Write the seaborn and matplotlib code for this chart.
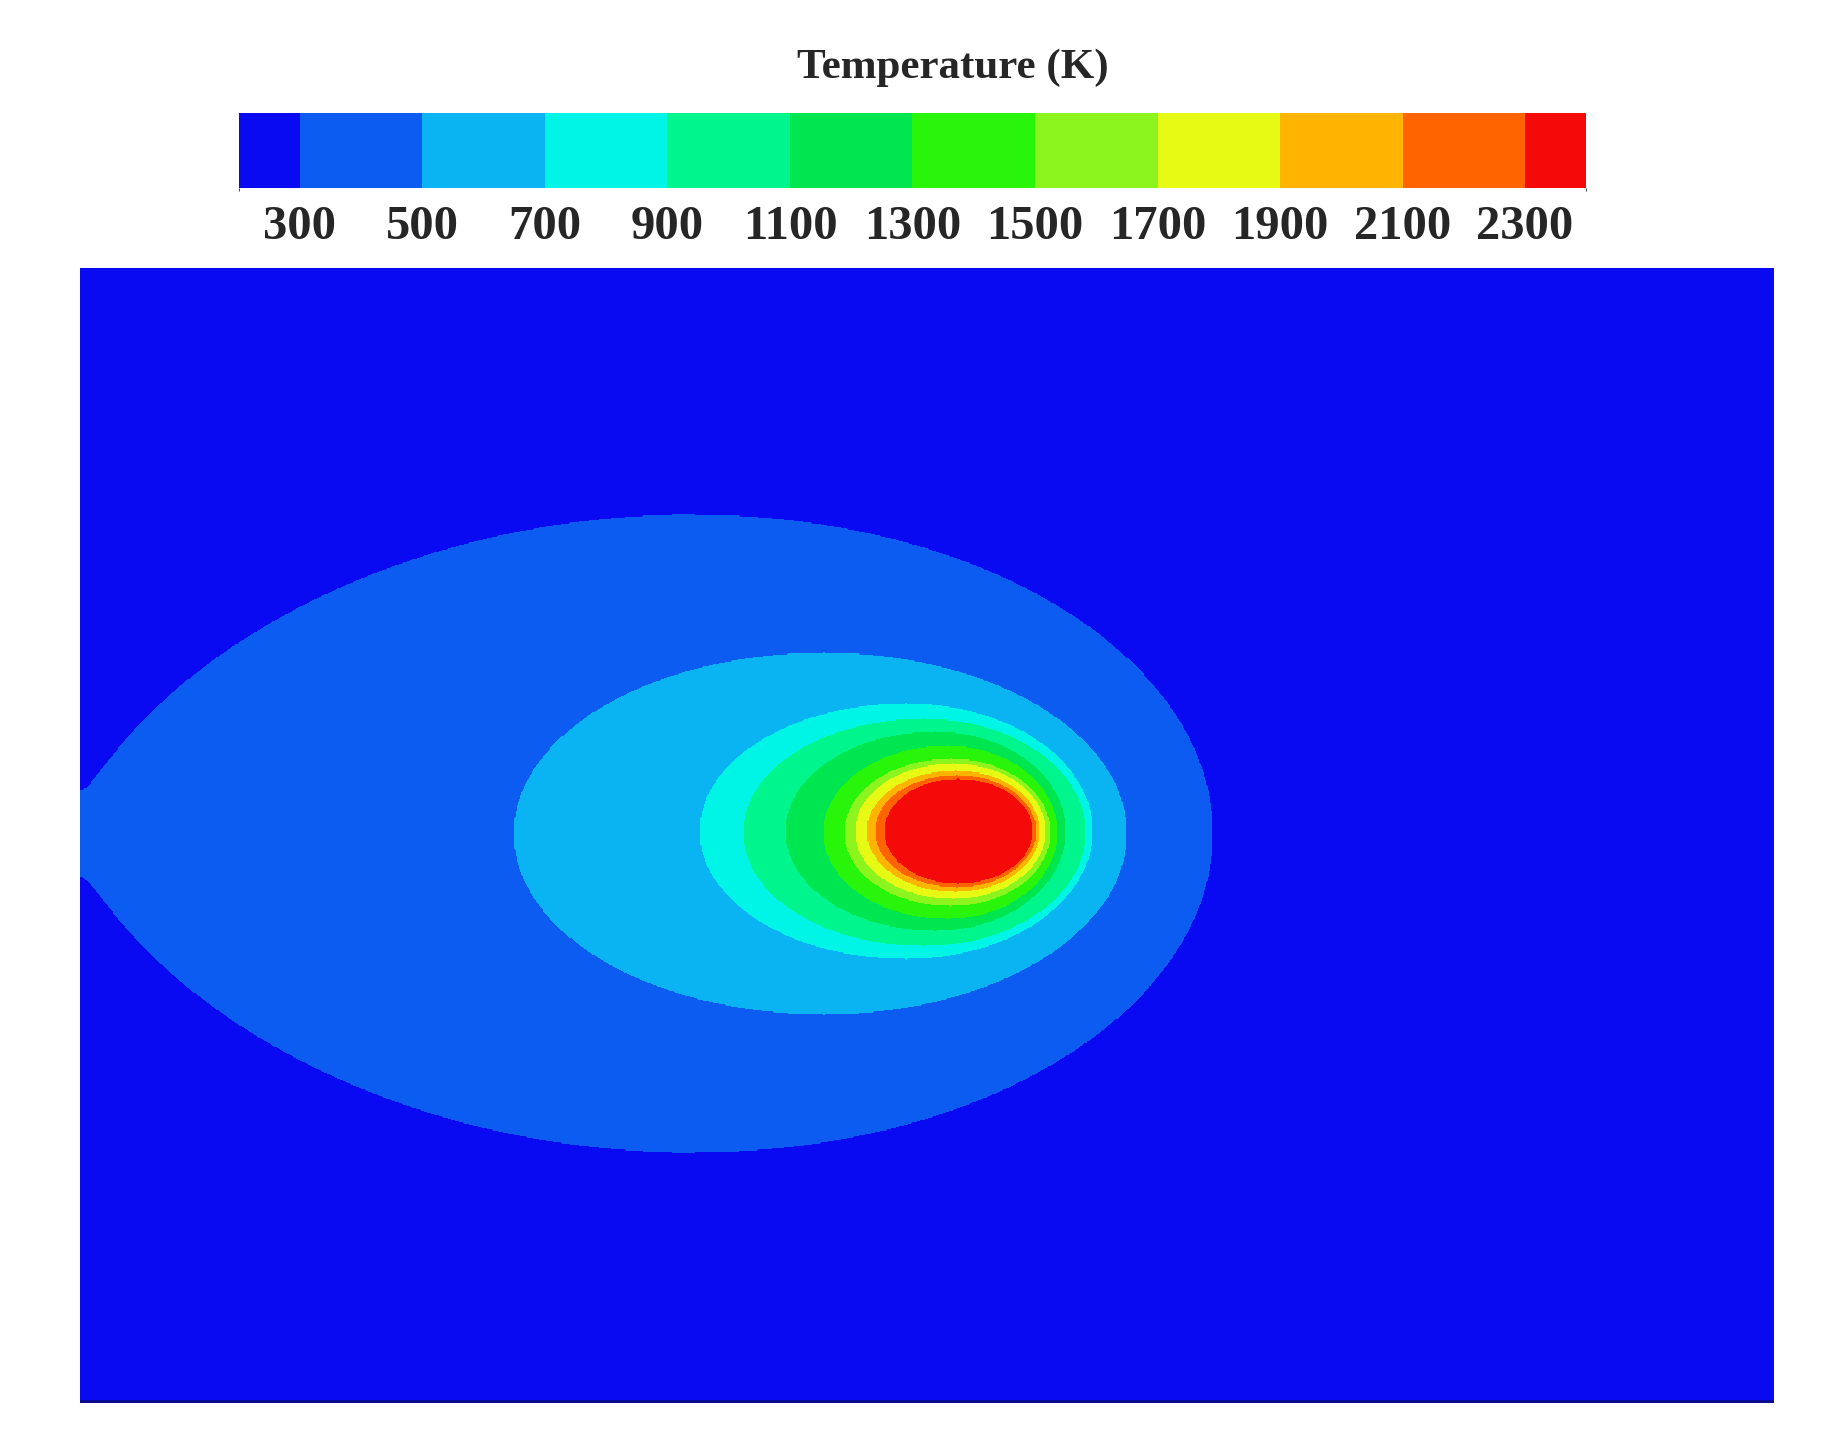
import numpy as np
import matplotlib
matplotlib.use("Agg")
import matplotlib.pyplot as plt
from matplotlib.colors import ListedColormap, BoundaryNorm
import seaborn as sns

sns.set_style("white")
plt.rcParams['font.family'] = ['Liberation Serif', 'DejaVu Serif']

# contour levels (K) and band colours
levels = [200, 300, 500, 700, 900, 1100, 1300, 1500, 1700, 1900, 2100, 2300, 2400]
tick_values = [300, 500, 700, 900, 1100, 1300, 1500, 1700, 1900, 2100, 2300]
band_colors = ['#0A0AF2', '#0D5CF2', '#0AB4F2', '#00F5E6', '#00F58C', '#00E650',
               '#28F50A', '#8CF51E', '#E6FA14', '#FFB400', '#FF6400', '#F50A0A']

# temperature inside each nested region and its boundary shape read off the
# picture (pixel units of the plotted domain, y down)
region_temp = [400, 600, 800, 1000, 1200, 1400, 1600, 1800, 2000, 2200, 2350]
region_cx = [522, 632, 702, 717, 727, 737, 740, 742, 744, 745, 746]
region_cy = [480, 480, 478, 479, 478, 479, 479, 478, 478, 478, 478]
region_rx_left = [522, 263, 175, 153, 127, 105, 90, 83, 75, 69, 62]
region_rx_right = [440, 257, 158, 137, 110, 93, 84, 78, 71, 67, 63]
region_ry = [270, 153, 108, 96, 84, 73, 62, 57, 51, 47, 44]
region_exp_left = [0.65, 0.5, 0.5, 0.5, 0.5, 0.5, 0.5, 0.5, 0.5, 0.5, 0.5]
neck_half = 36          # half-width of the inflow jet on the left wall
ambient = 250
domain_w, domain_h = 1440, 964

x = np.arange(domain_w)
y = np.arange(domain_h)
X, Y = np.meshgrid(x, y)
T = np.full(X.shape, float(ambient))
for i, temp in enumerate(region_temp):
    left = X < region_cx[i]
    rx = np.where(left, region_rx_left[i], region_rx_right[i])
    t2 = ((X - region_cx[i]) / rx) ** 2
    base = np.clip(1 - t2, 0, 1)
    h = region_ry[i] * base ** np.where(left, region_exp_left[i], 0.5)
    h = np.where(t2 < 1, h, -1.0)
    if i == 0:
        neck = np.where(left, neck_half, 0)
        h = np.where(left, (np.maximum(h, 0) ** 3 + neck ** 3) ** (1 / 3), h)
    T[np.abs(Y - region_cy[i]) <= h] = temp

cmap = ListedColormap(band_colors)
norm = BoundaryNorm(levels, cmap.N)

fig = plt.figure(figsize=(18.36, 14.49), dpi=100)
ax = fig.add_axes([0.0436, 0.032, 0.9224, 0.783])
cf = ax.contourf(X, Y, T, levels=levels, cmap=cmap, norm=norm)
ax.set_xlim(0, domain_w - 1)
ax.set_ylim(domain_h - 1, 0)
ax.set_xticks([])
ax.set_yticks([])
for s in ax.spines.values():
    s.set_visible(False)
ax.axhline(domain_h - 2, color='#0A0A8C', lw=2)

cax = fig.add_axes([0.130, 0.870, 0.734, 0.052])
cb = fig.colorbar(cf, cax=cax, orientation='horizontal', ticks=tick_values,
                  spacing='proportional')
cb.outline.set_visible(False)
cax.tick_params(length=0, labelsize=35, pad=12)
for lab in cax.get_xticklabels():
    lab.set_fontweight('bold')
fig.text(0.519, 0.953, 'Temperature (K)', ha='center', va='center',
         fontsize=31, fontweight='bold')

fig.savefig('out.png', dpi=100, facecolor='white')
